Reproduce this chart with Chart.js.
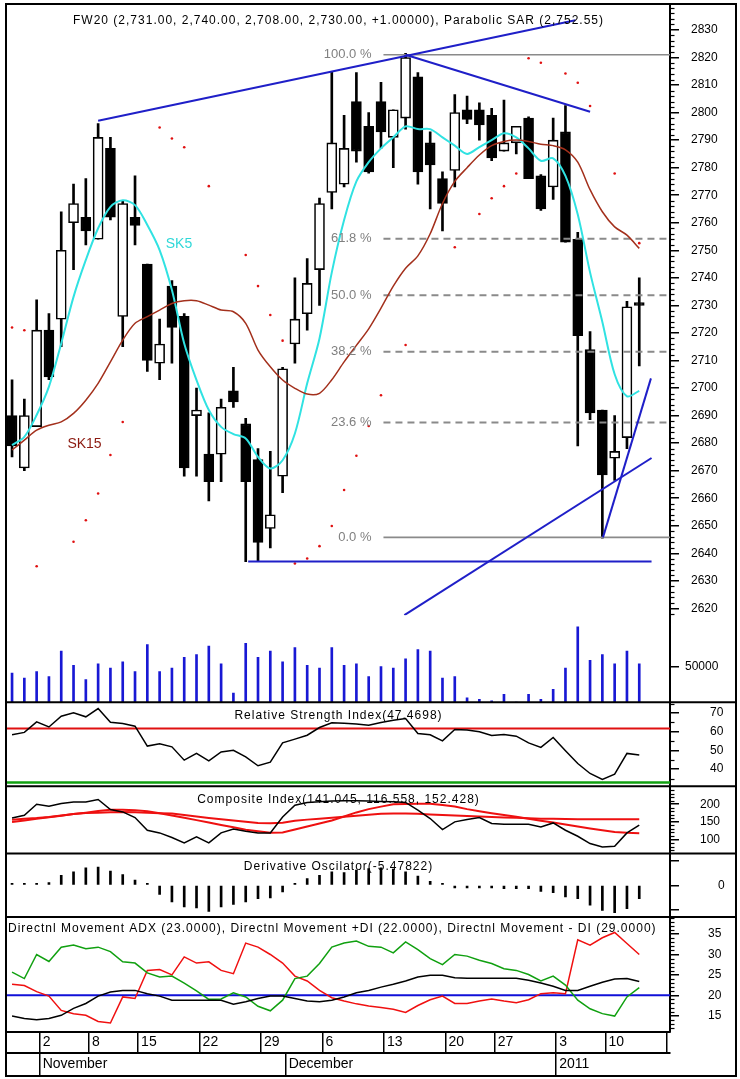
<!DOCTYPE html>
<html>
<head>
<meta charset="utf-8">
<script src="https://cdn.jsdelivr.net/npm/chart.js@4.4.1/dist/chart.umd.min.js"></script>
<style>
  html, body { margin: 0; padding: 0; background: #fff; }
  #box { width: 740px; height: 1079px; }
</style>
</head>
<body>
<div id="box"><canvas id="chart"></canvas></div>
<script>
// ---- data (index 0 = 28 Oct 2010, last = 13 Jan 2011) ----
const opens  = [2690,2671,2686,2721,2725,2760,2762,2754,2787,2726,2762,2745,2709,2737,2726,2690,2676,2676,2699,2687,2674,2649,2668,2716,2727,2743,2771,2774,2804,2795,2804,2791,2798,2813,2789,2776,2779,2801,2801,2799,2786,2789,2798,2777,2773,2793,2754,2714,2692,2674.5,2682,2731];
const highs  = [2703,2696,2732,2727,2764,2774,2776,2796,2791,2768,2777,2745,2725,2739,2727,2700,2691,2696,2707.5,2689,2678,2677,2707.5,2740,2747,2769,2815,2799,2814.5,2800,2811,2801,2821.5,2814.5,2793,2778.5,2806.5,2806,2803.5,2801.5,2804.5,2795,2798.5,2777.5,2798,2802.5,2756.5,2720.5,2692,2690,2731.5,2740];
const lows   = [2675,2670,2686,2703,2715,2743,2752,2754,2761,2715,2752,2706,2703,2709,2668,2668,2659,2666,2693,2637,2637,2642,2662,2709,2721,2730,2765,2773,2782,2778,2787,2780,2794,2774,2765,2757,2773,2796,2790,2782.5,2786,2785,2776,2764.5,2768.5,2753,2679,2688.5,2645.5,2666.5,2678,2708];
const closes = [2679,2690,2721,2704,2750,2767,2757,2791,2762,2767,2759,2710,2716,2722,2671,2692,2666,2693,2695,2666,2644,2654,2707,2725,2738,2767,2789,2787,2786,2778.5,2793,2801,2820,2778.5,2781,2767,2800,2797.5,2795.5,2783.5,2789,2795,2776,2765,2790,2753,2719,2691,2668.5,2677,2729.5,2730];
const sar    = [2722,2721,2635.3,null,null,2644.2,2652,2661.7,2675.7,2687.7,null,null,2794.6,2790.6,2787.4,null,2773.3,null,null,2748.3,2737,2726.5,2717.2,2636.3,2638.1,2642.6,2649.9,2663,2675.4,2686.2,2697.4,null,2715.6,null,null,null,2751.1,null,2763.2,2768.9,2773.3,2777.9,2819.7,2818.1,null,2814.2,2810.8,2802.4,null,2777.9,null,2752.6];
const sk5    = [2679.3,2682.3,2690.2,2700.5,2716.2,2733.1,2746.5,2758,2765.8,2768.2,2766.4,2759.2,2750.1,2735.6,2716.2,2702.9,2692,2685.9,2683.3,2681.7,2675,2670.8,2673.8,2683.5,2701.7,2718,2742,2761,2775,2782,2787,2791,2795,2794,2794,2791,2788,2785,2787.5,2790,2792.5,2791,2787,2782.5,2783.4,2777,2763,2742,2724,2705,2697,2699];
const sk15   = [2677.5,2681.1,2684.7,2686.5,2687.7,2690.8,2695.6,2701.7,2709.5,2717.4,2723.5,2725.9,2728.3,2730.7,2731.7,2731.7,2730.1,2728.3,2727.7,2723.5,2713.8,2707.7,2702.9,2699.9,2697.8,2698.1,2703,2709.5,2715.5,2721.5,2729,2737,2743.5,2748,2756,2767,2775,2780,2784.6,2788,2789.5,2790,2789.5,2788.5,2788,2786.5,2782,2772,2764,2758.5,2755.5,2750.7];
const volumes = [41000,34000,43000,36000,72000,52000,32000,54000,48000,57000,43000,81000,43000,48000,63000,67000,79000,54000,13000,83000,63000,72000,57000,77000,52000,48000,77000,52000,54000,36000,50000,48000,61000,74000,72000,34000,36000,6000,4000,2000,11000,0,11000,4000,18000,48000,106000,59000,67000,54000,72000,54000];
const rsi    = [58.3,59.6,65.2,62.5,68.2,70,67.9,72.3,65,64.4,62.9,52.3,53.5,51.9,44.8,48.4,44.4,49.2,50.1,46.6,41.8,43.7,54,56,58.1,62.2,64.7,64.5,64.1,63.4,64.9,66.1,67,59,58.3,55.1,61.2,60.9,59.9,58,58.5,57.6,54,51.6,56.9,49.8,43,37.7,34.5,37.3,48.4,47.5];
const compIndex = [161.2,168.8,200,194.3,202,206.6,206.6,213.3,185,178.2,162.3,126.3,118.8,105.6,90.4,107.4,90.4,118.8,130,123.5,118.8,118.8,164,197.2,205,207,209,210,210,209,208,207,205,183,159.5,128.3,150,156.6,162.3,145.3,143.3,143.3,143.3,135.7,147,126.3,109.3,88.7,79,81,118.8,141];
const compFast  = [149.4,153.8,158.6,163.2,167.7,172.2,176.2,180.5,184.7,184.1,183.3,180,174.2,168.3,161.8,155,148.2,141.4,134.6,127.8,123.2,119.3,120.1,128.3,136.8,145.3,153.8,165.2,176.8,186.1,193.2,200,200.8,201.4,201.1,197.5,193.5,186.1,180.2,174.5,169.4,164.3,158.9,153.5,148.2,142.5,136.8,131.2,126.3,121.5,119,117.5];
const compSlow  = [155.7,158.6,160.9,164,168,172,175.4,176.2,177.1,177.9,177.3,176.2,174.8,173.4,169.4,165.2,161.2,157.5,153.8,150.1,146.7,145.9,147.5,152.9,156.4,159.2,161.8,164.6,167.4,170,172.8,173.7,173.7,172.8,171.1,169.7,168.3,166.9,165.2,164,162.6,161.5,160.1,159.2,158.6,158.1,157.5,157.5,157.5,157.5,157.5,157.5];
const derivOsc  = [0.1,0.2,0.3,1.1,4.1,5.5,7.1,7.5,5.8,4.4,2.1,0.3,-3.8,-6.8,-8.9,-9.3,-10.7,-8.9,-7.9,-6.8,-5.5,-5.2,-2.7,0.1,2.7,4.1,5.5,5.2,6.2,6.8,7.1,6.6,5.5,3.8,1.6,0.1,-1.1,-1.1,-1.1,-1.1,-1.4,-1.4,-1.4,-2.5,-3,-4.8,-5.5,-8.2,-10.3,-11.2,-9.6,-5.5];
const adx     = [14.9,14.3,14,14.3,15.1,16.8,18,19.8,20.8,21.2,21.2,20.4,19.8,18.8,18.8,18.8,18.8,18.8,17.8,18.4,19.2,19.8,19.8,19.2,18.6,18.4,18.8,19.6,20.6,21.2,22,22.7,23.5,24.5,24.9,24.9,24.3,24.2,24.2,24.2,24.2,24.2,23.7,23,22.2,21.2,21.2,22.2,23.2,24,24.1,23.4];
const plusDI  = [25.7,24.1,30,28.3,31.8,32.3,31.4,31.8,30.7,28.2,27.9,25.5,24.5,24.7,23,21.1,19,19.1,20.6,19.6,17.3,16.2,18.8,24.1,24.7,27.8,31.8,32.8,33.3,32,31.8,30.4,33.1,31.2,29,27.5,30,29.6,28.6,27.8,26.5,26.1,25.1,23.5,24.7,22.5,18.8,16.7,15.5,14.9,19.6,21.9];
const minusDI = [22.7,22.4,20.9,19.8,16.3,15.5,15.1,13.6,13.2,19.6,19.2,26.1,26.3,25,29.4,27.9,28.2,26.1,25.3,32.8,31.8,30,27.9,24.7,23.5,21.2,19.4,18.6,17.9,17.4,17,16.6,15.8,17.5,18.9,19.8,18,18,18.6,19.1,18.6,18.2,18.9,20.4,20.6,20.4,33.6,32.3,34.1,35.4,32.7,30];

// drawn objects, in (bar index, price)
const trendLines = [
  [[7, 2797], [45.8, 2833.5]],
  [[32, 2821], [47, 2800.3]],
  [[19.2, 2637], [52, 2637]],
  [[31.9, 2617.6], [52, 2674.6]],
  [[48.05, 2645.8], [51.95, 2703.5]]
];
const fibLevels = [2821, 2754.2, 2733.7, 2713.2, 2687.5, 2645.8];
const fibLabels = ['100.0 %', '61.8 %', '50.0 %', '38.2 %', '23.6 %', '0.0 %'];
const fibStart = 30.2;
const rsiLevels = [61.7, 32.9];
const dmiLevel = 20;

// axes
const dayTickIdx  = [2, 6, 10, 15, 20, 25, 30, 35, 39, 44, 48, 53];
const dayLabels   = ['2', '8', '15', '22', '29', '6', '13', '20', '27', '3', '10', ''];
const monthTickIdx = [2, 22, 44];
const monthLabels  = ['November', 'December', '2011'];
const priceTicks = [2620,2630,2640,2650,2660,2670,2680,2690,2700,2710,2720,2730,2740,2750,2760,2770,2780,2790,2800,2810,2820,2830];
const volTicks  = [50000];
const rsiTicks  = [40, 50, 60, 70];
const compTicks = [100, 150, 200];
const doTicks   = [-10, 0, 10];
const dmiTicks  = [15, 20, 25, 30, 35];

const titles = {
  yP: 'FW20 (2,731.00, 2,740.00, 2,708.00, 2,730.00, +1.00000), Parabolic SAR (2,752.55)',
  yR: 'Relative Strength Index(47.4698)',
  yC: 'Composite Index(141.045, 116.558, 152.428)',
  yD: 'Derivative Oscilator(-5.47822)',
  yM: 'Directnl Movement ADX (23.0000), Directnl Movement +DI (22.0000), Directnl Movement - DI (29.0000)'
};

const FONT = '"Liberation Sans", Arial, sans-serif';
const xMin = -0.41, xMax = 53.5;
const idx = opens.map((_, i) => i);
const pts = arr => arr.map((v, i) => ({x: i, y: v}));
const seg = (a, b, y) => [{x: a, y: y}, {x: b, y: y}];

function line(data, color, width, axis, extra) {
  return Object.assign({type: 'line', data: data, borderColor: color, borderWidth: width,
    pointRadius: 0, yAxisID: axis, order: 3}, extra || {});
}

const datasets = [
  {type: 'bar', data: idx.map(i => ({x: i, y: [lows[i], highs[i]]})), yAxisID: 'yP',
   backgroundColor: '#000', barThickness: 2, grouped: false, order: 10},
  {type: 'bar', data: idx.map(i => ({x: i, y: [opens[i], closes[i]]})), yAxisID: 'yP',
   backgroundColor: idx.map(i => closes[i] >= opens[i] ? '#fff' : '#000'),
   borderColor: '#000', borderWidth: 1.6, borderSkipped: false, barThickness: 10,
   grouped: false, minBarLength: 2, order: 9},
  line(pts(sk15), '#a3301c', 1.5, 'yP', {tension: 0.3, order: 5}),
  line(pts(sk5), '#30e2e2', 2, 'yP', {tension: 0.3, order: 5}),
  {type: 'line', data: pts(sar), showLine: false, pointRadius: 1.3, pointBorderWidth: 0,
   pointBackgroundColor: '#e01010', yAxisID: 'yP', order: 4}
];
fibLevels.forEach((lv, k) => {
  const solid = k === 0 || k === fibLevels.length - 1;
  datasets.push(line(seg(fibStart, xMax, lv), '#8a8a8a', solid ? 1.6 : 2, 'yP',
    {borderDash: solid ? [] : [7, 5], order: 8}));
});
trendLines.forEach(t => {
  datasets.push(line([{x: t[0][0], y: t[0][1]}, {x: t[1][0], y: t[1][1]}], '#1f1fc8', 2, 'yP', {order: 2}));
});
datasets.push(
  {type: 'bar', data: pts(volumes), yAxisID: 'yV', backgroundColor: '#1818d4',
   barThickness: 2, grouped: false, order: 6},
  line(seg(xMin, xMax, rsiLevels[0]), '#e01010', 2, 'yR'),
  line(seg(xMin, xMax, rsiLevels[1]), '#10a010', 2.5, 'yR'),
  line(pts(rsi), '#000', 1.5, 'yR', {order: 2}),
  line(pts(compFast), '#ee1010', 2, 'yC'),
  line(pts(compSlow), '#ee1010', 2, 'yC'),
  line(pts(compIndex), '#000', 1.5, 'yC', {order: 2}),
  {type: 'bar', data: pts(derivOsc), yAxisID: 'yD', backgroundColor: '#000',
   barThickness: 2, grouped: false, minBarLength: 2, order: 6},
  line(seg(xMin, xMax, dmiLevel), '#1010d8', 2, 'yM', {order: 4}),
  line(pts(adx), '#000', 1.5, 'yM'),
  line(pts(plusDI), '#10a010', 1.5, 'yM'),
  line(pts(minusDI), '#f01010', 1.5, 'yM')
);

function panelAxis(min, max, weight, ticks, pad, label) {
  return {
    type: 'linear', position: 'right', stack: 'panels', stackWeight: weight, min: min, max: max,
    afterBuildTicks: s => { s.ticks = ticks.map(v => ({value: v})); },
    afterFit: s => { s.width = 66; s.paddingTop = 0; s.paddingBottom = 0; },
    grid: {drawOnChartArea: false, drawTicks: true, tickLength: 9, color: '#000', lineWidth: 1.5},
    border: {display: true, color: '#000', width: 2},
    ticks: {autoSkip: false, color: '#000', padding: pad, font: {family: FONT, size: 12},
      callback: label || (v => String(v))}
  };
}
function dateAxis(pos, labels) {
  return {
    type: 'linear', position: 'bottom', min: xMin, max: xMax, offset: false,
    afterBuildTicks: s => { s.ticks = pos.map(v => ({value: v + 0.25})); },
    afterFit: s => { s.height = 21.7; s.paddingLeft = 0; s.paddingRight = 0; },
    grid: {offset: false, drawOnChartArea: false, drawTicks: true, tickLength: 21.7, color: '#000', lineWidth: 1.5},
    border: {display: true, color: '#000', width: 2},
    ticks: {autoSkip: false, maxRotation: 0, align: 'start', labelOffset: 3, padding: -19.3,
      color: '#000', font: {family: FONT, size: 14}, callback: (v, i) => labels[i]}
  };
}

const minorTicks = [
  {axis: 'yP', step: 2, major: 10},
  {axis: 'yR', step: 5, major: 10},
  {axis: 'yC', step: 10, major: 50},
  {axis: 'yM', step: 1, major: 5}
];

const decor = {
  id: 'decor',
  afterDatasetsDraw(chart) {
    const ctx = chart.ctx, xs = chart.scales.x, yP = chart.scales.yP;
    const area = chart.chartArea;
    ctx.save();
    ctx.textBaseline = 'middle';
    // fibonacci labels
    ctx.fillStyle = '#808080';
    ctx.font = '13px ' + FONT;
    ctx.textAlign = 'right';
    fibLevels.forEach((lv, k) => {
      ctx.fillText(fibLabels[k], xs.getPixelForValue(fibStart) - 12, yP.getPixelForValue(lv));
    });
    // moving average names
    ctx.textAlign = 'left';
    ctx.font = '14px ' + FONT;
    ctx.fillStyle = '#30d8d8';
    ctx.fillText('SK5', xs.getPixelForValue(12.5), yP.getPixelForValue(2752.3));
    ctx.fillStyle = '#8c1a10';
    ctx.fillText('SK15', xs.getPixelForValue(4.5), yP.getPixelForValue(2679.7));
    // panel titles
    ctx.fillStyle = '#000';
    ctx.font = '12px ' + FONT;
    if ('letterSpacing' in ctx) ctx.letterSpacing = '1px';
    const mid = (area.left + area.right) / 2;
    const dy = {yP: 16, yR: 13, yC: 13, yD: 12.7, yM: 12};
    Object.keys(titles).forEach(id => {
      const s = chart.scales[id];
      if (id === 'yM') { ctx.textAlign = 'left'; ctx.fillText(titles[id], area.left + 1, s.top + dy[id]); }
      else { ctx.textAlign = 'center'; ctx.fillText(titles[id], mid, s.top + dy[id]); }
    });
    ctx.restore();
  },
  afterDraw(chart) {
    const ctx = chart.ctx, area = chart.chartArea;
    ctx.save();
    ctx.strokeStyle = '#000';
    // minor axis ticks
    ctx.lineWidth = 1.2;
    minorTicks.forEach(m => {
      const s = chart.scales[m.axis];
      const start = Math.ceil(s.min / m.step) * m.step;
      for (let v = start; v <= s.max; v += m.step) {
        if (Math.abs(v / m.major - Math.round(v / m.major)) < 1e-6) continue;
        const y = Math.round(s.getPixelForValue(v)) + 0.5;
        ctx.beginPath(); ctx.moveTo(s.left, y); ctx.lineTo(s.left + 4.5, y); ctx.stroke();
      }
    });
    // panel separators
    ctx.lineWidth = 2;
    ['yR', 'yC', 'yD', 'yM'].forEach(id => {
      const y = chart.scales[id].top;
      ctx.beginPath(); ctx.moveTo(area.left, y); ctx.lineTo(736, y); ctx.stroke();
    });
    // outer frame
    ctx.strokeRect(6, 4, 730, 1072);
    ctx.restore();
  }
};

new Chart(document.getElementById('chart'), {
  type: 'line',
  data: {datasets: datasets},
  options: {
    responsive: true,
    maintainAspectRatio: false,
    animation: false,
    events: [],
    layout: {padding: {left: 7, top: 5, right: 4, bottom: 4}},
    plugins: {legend: {display: false}, tooltip: {enabled: false}},
    scales: {
      x: dateAxis(dayTickIdx, dayLabels),
      x2: dateAxis(monthTickIdx, monthLabels),
      yP: panelAxis(2617.55, 2839.05, 610, priceTicks, 12),
      yV: panelAxis(0, 122500, 87, volTicks, 6),
      yR: panelAxis(30.9, 75.7, 84, rsiTicks, 31),
      yC: panelAxis(60.3, 251, 67.3, compTicks, 21),
      yD: panelAxis(-13, 13, 63.4, doTicks, 39, v => (v === 0 ? '0' : '')),
      yM: panelAxis(11.1, 39.2, 114.6, dmiTicks, 29)
    }
  },
  plugins: [decor]
});
</script>
</body>
</html>
